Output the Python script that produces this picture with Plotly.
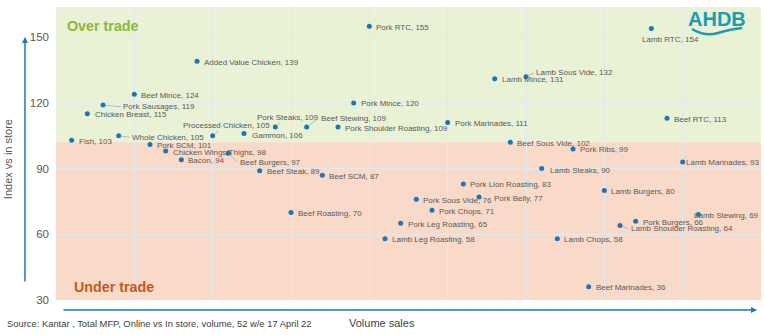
import plotly.graph_objects as go

# ---------------- data ----------------
categories = ["Fish", "Chicken Breast", "Pork Sausages", "Whole Chicken", "Beef Mince",
              "Pork SCM", "Chicken Wings/Thighs", "Bacon", "Added Value Chicken",
              "Processed Chicken", "Beef Burgers", "Gammon", "Beef Steak", "Pork Steaks",
              "Beef Roasting", "Beef Stewing", "Beef SCM", "Pork Shoulder Roasting",
              "Pork Mince", "Pork RTC", "Lamb Leg Roasting", "Pork Leg Roasting",
              "Pork Sous Vide", "Pork Chops", "Pork Marinades", "Pork Lion Roasting",
              "Pork Belly", "Lamb Mince", "Beef Sous Vide", "Lamb Sous Vide", "Lamb Steaks",
              "Lamb Chops", "Pork Ribs", "Beef Marinades", "Lamb Burgers",
              "Lamb Shoulder Roasting", "Pork Burgers", "Lamb RTC", "Beef RTC",
              "Lamb Marinades", "Lamb Stewing"]
volume_rank = [1, 2, 3, 4, 5, 6, 7, 8, 9, 10, 11, 12, 13, 14, 15, 16, 17, 18, 19, 20,
               21, 22, 23, 24, 25, 26, 27, 28, 29, 30, 31, 32, 33, 34, 35, 36, 37, 38, 39, 40, 41]
index_vs_store = [103, 115, 119, 105, 124, 101, 98, 94, 139, 105, 97, 106, 89, 109, 70, 109,
                  87, 109, 120, 155, 58, 65, 76, 71, 111, 83, 77, 131, 102, 132, 90, 58, 99,
                  36, 80, 64, 66, 154, 113, 93, 69]
y_ticks = [30, 60, 90, 120, 150]
threshold = 102

# ---------------- styling ----------------
FONT = "Liberation Sans, Arial, sans-serif"
LABEL_COLOR = "#595959"
DOT_COLOR = "#1f75b3"
X_RANGE = [0, 45]
Y_RANGE = [30, 163.8]

# label placement (pixel offsets): plain labels -> (dx to text start, dy down)
plain_offsets = {
    "Chicken Breast": (8, 1), "Pork Belly": (15, 1), "Lamb Marinades": (3, 0.5),
    "Lamb Stewing": (-4, 1), "Lamb Steaks": (8, 2), "Gammon": (8, 1.5),
}
# labels with leader lines -> (anchor, ax, ay)
leader_offsets = {
    "Pork Sausages": ("left", 18, 1.6), "Whole Chicken": ("left", 11, 1.5),
    "Processed Chicken": ("center", 14, -10.4), "Beef Burgers": ("left", 9.5, 9),
    "Pork Steaks": ("center", 11.8, -9.6), "Beef Stewing": ("left", 12.5, -9),
    "Lamb Sous Vide": ("left", 8, -3.7), "Lamb Shoulder Roasting": ("left", 8.5, 3.3),
}
below_offsets = {"Lamb RTC": (18.7, 11)}

fig = go.Figure()
fig.add_trace(go.Scatter(x=volume_rank, y=index_vs_store, mode="markers",
                         marker=dict(size=5, color=DOT_COLOR), hoverinfo="text",
                         text=categories, showlegend=False, cliponaxis=False))

annotations = []
for name, xv, yv in zip(categories, volume_rank, index_vs_store):
    label = f"{name}, {yv}"
    base = dict(x=xv, y=yv, xref="x", yref="y", text=label,
                font=dict(family=FONT, size=8, color=LABEL_COLOR))
    if name in leader_offsets:
        anc, ax, ay = leader_offsets[name]
        annotations.append(dict(base, showarrow=True, arrowhead=0, arrowwidth=0.8,
                                arrowcolor="#9fb3c4", ax=ax, ay=ay, xanchor=anc,
                                yanchor="middle", standoff=2))
    elif name in below_offsets:
        dx, dy = below_offsets[name]
        annotations.append(dict(base, showarrow=False, xanchor="center", yanchor="middle",
                                xshift=dx, yshift=-dy))
    else:
        dx, dy = plain_offsets.get(name, (7, 1))
        annotations.append(dict(base, showarrow=False, xanchor="left", yanchor="middle",
                                xshift=dx - 2, yshift=-dy))

# zone titles
annotations.append(dict(x=0.013, y=0.936, xref="paper", yref="paper", text="<b>Over trade</b>",
                        showarrow=False, xanchor="left", yanchor="middle",
                        font=dict(family=FONT, size=14.3, color="#8db63c")))
annotations.append(dict(x=0.022, y=0.046, xref="paper", yref="paper", text="<b>Under trade</b>",
                        showarrow=False, xanchor="left", yanchor="middle",
                        font=dict(family=FONT, size=14.3, color="#c8581d")))
# axis titles / source
annotations.append(dict(x=-0.068, y=0.481, xref="paper", yref="paper", text="Index vs in store",
                        textangle=-90, showarrow=False, xanchor="center", yanchor="middle",
                        font=dict(family=FONT, size=11, color=LABEL_COLOR)))
annotations.append(dict(x=0.462, y=-0.0775, xref="paper", yref="paper", text="Volume sales",
                        showarrow=False, xanchor="center", yanchor="middle",
                        font=dict(family=FONT, size=11, color="#404040")))
annotations.append(dict(x=-0.073, y=-0.0785, xref="paper", yref="paper",
                        text="Source: Kantar , Total MFP, Online vs In store, volume, 52 w/e 17 April 22",
                        showarrow=False, xanchor="left", yanchor="middle",
                        font=dict(family=FONT, size=9.4, color="#404040")))
# axis arrows
annotations.append(dict(x=-0.044, y=0.8976, xref="paper", yref="paper", text="", showarrow=True,
                        ax=0, ay=246, arrowhead=2, arrowsize=0.8, arrowwidth=1.5,
                        arrowcolor="#1f78b4"))
annotations.append(dict(x=0.9943, y=-0.0341, xref="paper", yref="paper", text="", showarrow=True,
                        ax=-695, ay=0, arrowhead=2, arrowsize=0.8, arrowwidth=1.5,
                        arrowcolor="#1f78b4"))
# logo
annotations.append(dict(x=0.9372, y=0.9584, xref="paper", yref="paper", text="<b>AHDB</b>",
                        showarrow=False, xanchor="center", yanchor="middle",
                        font=dict(family=FONT, size=20, color="#1d9bb2")))

shapes = [
    dict(type="rect", xref="paper", yref="y", x0=0, x1=1, y0=threshold, y1=Y_RANGE[1],
         fillcolor="#e9f2d5", line=dict(width=0), layer="below"),
    dict(type="rect", xref="paper", yref="y", x0=0, x1=1, y0=Y_RANGE[0], y1=threshold,
         fillcolor="#f9dac8", line=dict(width=0), layer="below"),
    dict(type="path", xref="paper", yref="paper",
         path="M 0.9021,0.9249 Q 0.9206,0.8976 0.9390,0.9113 T 0.9730,0.9283",
         line=dict(color="#1d9bb2", width=2.5)),
]

fig.update_layout(
    width=764, height=335,
    margin=dict(l=56, r=3, t=7, b=35),
    paper_bgcolor="white", plot_bgcolor="white",
    font=dict(family=FONT),
    xaxis=dict(range=X_RANGE, dtick=5, showticklabels=False, showgrid=True,
               gridcolor="#e3e8ea", gridwidth=1, zeroline=False, showline=False, ticks=""),
    yaxis=dict(range=Y_RANGE, tickvals=y_ticks, showgrid=True, gridcolor="#e3e8ea",
               gridwidth=1, zeroline=False, showline=False, ticks="",
               ticklabelstandoff=6,
               tickfont=dict(family=FONT, size=11.5, color=LABEL_COLOR)),
    annotations=annotations, shapes=shapes,
)

fig.write_html("out.html")
